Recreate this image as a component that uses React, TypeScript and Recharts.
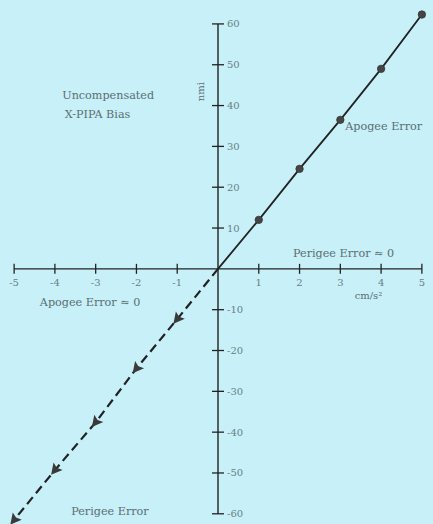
import { LineChart, Line, XAxis, YAxis, ReferenceLine, ReferenceDot } from "recharts";

const apogeeX = [0, 1, 2, 3, 4, 5];
const apogeeY = [0, 12, 24.5, 36.5, 49, 62.3];
const perigeeX = [0, -1, -2, -3, -4, -5];
const perigeeY = [0, -12.3, -24.4, -37.6, -49.3, -61.5];
const xTicks = [-5, -4, -3, -2, -1, 1, 2, 3, 4, 5];
const yTicks = [-60, -50, -40, -30, -20, -10, 10, 20, 30, 40, 50, 60];

const apogee = apogeeX.map((x, i) => ({ x, y: apogeeY[i] }));
const perigee = perigeeX.map((x, i) => ({ x, y: perigeeY[i] }));

// annotations: text, anchor x/y in data units
const notes = [
  { text: "Uncompensated", x: -3.82, y: 42.5 },
  { text: "X-PIPA Bias", x: -3.76, y: 38 },
  { text: "Apogee Error", x: 3.12, y: 35 },
  { text: "Perigee Error \u2248 0", x: 1.84, y: 3.9 },
  { text: "Apogee Error \u2248 0", x: -4.37, y: -8 },
  { text: "Perigee Error", x: -3.6, y: -59.2 },
];

const INK = "#222";
const TXT = "#5b6e70";
const TICK = "#6b7f81";
const FONT = "DejaVu Serif, serif";

const circleDot = (p: any) => {
  if (p.payload.x === 0) return <g key={`a${p.index}`} />;
  return <circle key={`a${p.index}`} cx={p.cx} cy={p.cy} r={3.7} fill="#454545" stroke="#333" strokeWidth={0.8} />;
};

const arrowDot = (p: any) => {
  if (p.payload.x === 0) return <g key={`p${p.index}`} />;
  return (
    <polygon
      key={`p${p.index}`}
      points="6,0 -5,-5.8 -3,0 -5,5.8"
      fill="#3a3a3a"
      transform={`translate(${p.cx},${p.cy}) rotate(129)`}
    />
  );
};

export default function App() {
  return (
    <div style={{ position: "fixed", left: 0, top: 0, width: 433, height: 524, background: "#c7f0f9" }}>
      <LineChart width={433} height={524} margin={{ top: 8, right: 5, left: 8, bottom: 0 }}>
        <XAxis dataKey="x" type="number" domain={[-5.15, 5.15]} allowDataOverflow hide />
        <YAxis type="number" domain={[-62.5, 63.9]} allowDataOverflow hide />

        <ReferenceLine segment={[{ x: -5, y: 0 }, { x: 5, y: 0 }]} stroke={INK} strokeWidth={1.4} />
        <ReferenceLine segment={[{ x: 0, y: -60 }, { x: 0, y: 60 }]} stroke={INK} strokeWidth={1.4} />

        {xTicks.map((t) => (
          <ReferenceDot
            key={`xt${t}`}
            x={t}
            y={0}
            r={1}
            shape={(p: any) => (
              <g>
                <line x1={p.cx} y1={p.cy - 5} x2={p.cx} y2={p.cy + 5} stroke={INK} strokeWidth={1.3} />
                <text x={p.cx} y={p.cy + 17} textAnchor="middle" fontFamily={FONT} fontSize={10} fill={TICK}>
                  {t}
                </text>
              </g>
            )}
          />
        ))}
        {yTicks.map((t) => (
          <ReferenceDot
            key={`yt${t}`}
            x={0}
            y={t}
            r={1}
            shape={(p: any) => (
              <g>
                <line x1={p.cx - 6} y1={p.cy} x2={p.cx + 6} y2={p.cy} stroke={INK} strokeWidth={1.3} />
                <text x={p.cx + 9} y={p.cy + 3.5} textAnchor="start" fontFamily={FONT} fontSize={10} fill={TICK}>
                  {t}
                </text>
              </g>
            )}
          />
        ))}

        {notes.map((n) => (
          <ReferenceDot
            key={n.text}
            x={n.x}
            y={n.y}
            r={1}
            shape={(p: any) => (
              <text x={p.cx} y={p.cy + 4} fontFamily={FONT} fontSize={11.2} fill={TXT}>
                {n.text}
              </text>
            )}
          />
        ))}
        <ReferenceDot
          x={-0.43}
          y={43.4}
          r={1}
          shape={(p: any) => (
            <text x={p.cx} y={p.cy} textAnchor="middle" transform={`rotate(-90 ${p.cx} ${p.cy})`} dy={4} fontFamily={FONT} fontSize={10} fill={TXT}>
              nmi
            </text>
          )}
        />
        <ReferenceDot
          x={3.69}
          y={-6.5}
          r={1}
          shape={(p: any) => (
            <text x={p.cx} y={p.cy + 4} textAnchor="middle" fontFamily={FONT} fontSize={10} fill={TXT}>
              cm/s²
            </text>
          )}
        />

        <Line data={apogee} dataKey="y" stroke={INK} strokeWidth={1.8} dot={circleDot} isAnimationActive={false} />
        <Line
          data={perigee}
          dataKey="y"
          stroke={INK}
          strokeWidth={2.2}
          strokeDasharray="9 5"
          dot={arrowDot}
          isAnimationActive={false}
        />
      </LineChart>
    </div>
  );
}
